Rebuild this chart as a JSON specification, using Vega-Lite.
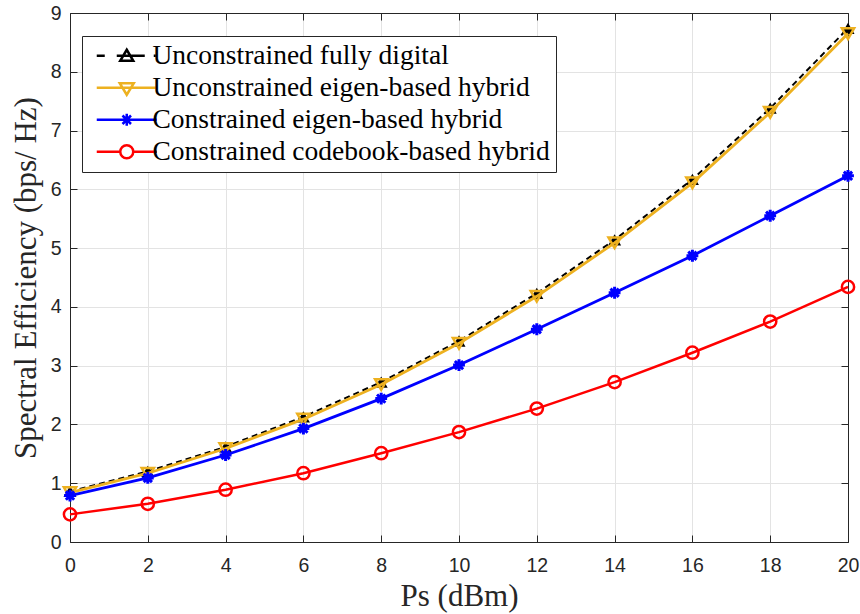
{
  "$schema": "https://vega.github.io/schema/vega-lite/v6.json",
  "width": 778,
  "height": 529,
  "autosize": {"type": "none"},
  "padding": {"left": 70, "top": 13, "right": 12, "bottom": 72},
  "background": "white",
  "datasets": {
    "d": [
      {"ps": 0, "series": "Unconstrained fully digital", "se": 0.86},
      {"ps": 2, "series": "Unconstrained fully digital", "se": 1.2},
      {"ps": 4, "series": "Unconstrained fully digital", "se": 1.62},
      {"ps": 6, "series": "Unconstrained fully digital", "se": 2.13},
      {"ps": 8, "series": "Unconstrained fully digital", "se": 2.72},
      {"ps": 10, "series": "Unconstrained fully digital", "se": 3.42},
      {"ps": 12, "series": "Unconstrained fully digital", "se": 4.23},
      {"ps": 14, "series": "Unconstrained fully digital", "se": 5.14},
      {"ps": 16, "series": "Unconstrained fully digital", "se": 6.17},
      {"ps": 18, "series": "Unconstrained fully digital", "se": 7.38},
      {"ps": 20, "series": "Unconstrained fully digital", "se": 8.74},
      {"ps": 0, "series": "Unconstrained eigen-based hybrid", "se": 0.84},
      {"ps": 2, "series": "Unconstrained eigen-based hybrid", "se": 1.17},
      {"ps": 4, "series": "Unconstrained eigen-based hybrid", "se": 1.59},
      {"ps": 6, "series": "Unconstrained eigen-based hybrid", "se": 2.09},
      {"ps": 8, "series": "Unconstrained eigen-based hybrid", "se": 2.68},
      {"ps": 10, "series": "Unconstrained eigen-based hybrid", "se": 3.38},
      {"ps": 12, "series": "Unconstrained eigen-based hybrid", "se": 4.18},
      {"ps": 14, "series": "Unconstrained eigen-based hybrid", "se": 5.09},
      {"ps": 16, "series": "Unconstrained eigen-based hybrid", "se": 6.11},
      {"ps": 18, "series": "Unconstrained eigen-based hybrid", "se": 7.31},
      {"ps": 20, "series": "Unconstrained eigen-based hybrid", "se": 8.65},
      {"ps": 0, "series": "Constrained eigen-based hybrid", "se": 0.79},
      {"ps": 2, "series": "Constrained eigen-based hybrid", "se": 1.09},
      {"ps": 4, "series": "Constrained eigen-based hybrid", "se": 1.48},
      {"ps": 6, "series": "Constrained eigen-based hybrid", "se": 1.93},
      {"ps": 8, "series": "Constrained eigen-based hybrid", "se": 2.44},
      {"ps": 10, "series": "Constrained eigen-based hybrid", "se": 3.01},
      {"ps": 12, "series": "Constrained eigen-based hybrid", "se": 3.62},
      {"ps": 14, "series": "Constrained eigen-based hybrid", "se": 4.24},
      {"ps": 16, "series": "Constrained eigen-based hybrid", "se": 4.87},
      {"ps": 18, "series": "Constrained eigen-based hybrid", "se": 5.55},
      {"ps": 20, "series": "Constrained eigen-based hybrid", "se": 6.23},
      {"ps": 0, "series": "Constrained codebook-based hybrid", "se": 0.47},
      {"ps": 2, "series": "Constrained codebook-based hybrid", "se": 0.65},
      {"ps": 4, "series": "Constrained codebook-based hybrid", "se": 0.89},
      {"ps": 6, "series": "Constrained codebook-based hybrid", "se": 1.17},
      {"ps": 8, "series": "Constrained codebook-based hybrid", "se": 1.51},
      {"ps": 10, "series": "Constrained codebook-based hybrid", "se": 1.87},
      {"ps": 12, "series": "Constrained codebook-based hybrid", "se": 2.27},
      {"ps": 14, "series": "Constrained codebook-based hybrid", "se": 2.72},
      {"ps": 16, "series": "Constrained codebook-based hybrid", "se": 3.22},
      {"ps": 18, "series": "Constrained codebook-based hybrid", "se": 3.75},
      {"ps": 20, "series": "Constrained codebook-based hybrid", "se": 4.34}
    ]
  },
  "data": {"name": "d"},
  "layer": [
    {
      "encoding": {
        "x": {
          "field": "ps", "type": "quantitative",
          "scale": {"domain": [0, 20], "nice": false, "zero": false},
          "axis": {
            "orient": "bottom", "title": "Ps (dBm)", "values": [0, 2, 4, 6, 8, 10, 12, 14, 16, 18, 20],
            "grid": true, "tickSize": -7, "labelPadding": 21, "titlePadding": 7, "labelFlush": false
          }
        },
        "y": {
          "field": "se", "type": "quantitative",
          "scale": {"domain": [0, 9], "nice": false},
          "axis": {
            "orient": "left", "title": "Spectral Efficiency (bps/ Hz)", "values": [0, 1, 2, 3, 4, 5, 6, 7, 8, 9],
            "grid": true, "tickSize": -7, "labelPadding": 16, "titlePadding": 8, "labelFlush": false
          }
        }
      },
      "layer": [
        {
          "transform": [{"filter": "datum.series === 'Unconstrained fully digital'"}],
          "mark": {"type": "line", "color": "#000000", "strokeWidth": 2, "strokeDash": [6, 4]}
        },
        {
          "transform": [{"filter": "datum.series === 'Unconstrained fully digital'"}],
          "mark": {"type": "point", "shape": "triangle-up", "filled": true, "color": "#000000", "size": 170, "opacity": 1}
        },
        {
          "transform": [{"filter": "datum.series === 'Unconstrained eigen-based hybrid'"}],
          "mark": {"type": "line", "color": "#EDB120", "strokeWidth": 2.8}
        },
        {
          "transform": [{"filter": "datum.series === 'Unconstrained eigen-based hybrid'"}],
          "mark": {"type": "point", "shape": "triangle-down", "filled": false, "color": "#EDB120", "size": 150, "strokeWidth": 2.5, "opacity": 1}
        },
        {
          "transform": [{"filter": "datum.series === 'Constrained eigen-based hybrid'"}],
          "mark": {"type": "line", "color": "#0000FF", "strokeWidth": 2.8}
        },
        {
          "transform": [{"filter": "datum.series === 'Constrained eigen-based hybrid'"}],
          "mark": {"type": "point", "shape": "M0,-1L0,1M-1,0L1,0M-0.7,-0.7L0.7,0.7M-0.7,0.7L0.7,-0.7", "filled": false, "color": "#0000FF", "size": 140, "strokeWidth": 3, "opacity": 1}
        },
        {
          "transform": [{"filter": "datum.series === 'Constrained codebook-based hybrid'"}],
          "mark": {"type": "line", "color": "#FF0000", "strokeWidth": 2.5}
        },
        {
          "transform": [{"filter": "datum.series === 'Constrained codebook-based hybrid'"}],
          "mark": {"type": "point", "shape": "circle", "filled": false, "color": "#FF0000", "size": 150, "strokeWidth": 2.5, "opacity": 1}
        },
        {
          "mark": {"type": "point", "filled": false, "opacity": 0},
          "encoding": {
            "color": {
              "field": "series", "type": "nominal", "title": null,
              "scale": {
                "domain": ["Unconstrained fully digital", "Unconstrained eigen-based hybrid", "Constrained eigen-based hybrid", "Constrained codebook-based hybrid"],
                "range": ["#000000", "#EDB120", "#0000FF", "#FF0000"]
              }
            },
            "shape": {
              "field": "series", "type": "nominal", "title": null,
              "scale": {
                "domain": ["Unconstrained fully digital", "Unconstrained eigen-based hybrid", "Constrained eigen-based hybrid", "Constrained codebook-based hybrid"],
                "range": [
                  "M-1,0L0.6,0M3,0L8.6,0M10.4,0L10.8,0M5,-1.2L6.3,1L3.7,1Z",
                  "M-1,0L11,0M3.6,-0.9L6.4,-0.9L5,1.4Z",
                  "M-1,0L11,0M5,-1.2L5,1.2M3.8,0L6.2,0M4.15,-0.85L5.85,0.85M4.15,0.85L5.85,-0.85",
                  "M-1,0L3.7,0M6.3,0L11,0M6.3,0A1.3,1.3 0 1,1 3.7,0A1.3,1.3 0 1,1 6.3,0"
                ]
              }
            }
          }
        }
      ]
    },
    {
      "mark": {"type": "point", "opacity": 0},
      "encoding": {
        "x": {
          "field": "ps", "type": "quantitative",
          "scale": {"domain": [0, 20], "nice": false, "zero": false},
          "axis": {"orient": "top", "title": null, "labels": false, "grid": false, "tickSize": -7, "values": [0, 2, 4, 6, 8, 10, 12, 14, 16, 18, 20]}
        },
        "y": {
          "field": "se", "type": "quantitative",
          "scale": {"domain": [0, 9], "nice": false},
          "axis": {"orient": "right", "title": null, "labels": false, "grid": false, "tickSize": -7, "values": [0, 1, 2, 3, 4, 5, 6, 7, 8, 9]}
        }
      }
    }
  ],
  "resolve": {"axis": {"x": "independent", "y": "independent"}},
  "config": {
    "view": {"stroke": null},
    "axis": {
      "domainColor": "#262626", "domainWidth": 1, "tickColor": "#262626", "tickWidth": 1,
      "gridColor": "#e3e3e3", "gridWidth": 1,
      "labelFont": "Liberation Sans", "labelFontSize": 19.5, "labelColor": "#262626",
      "titleFont": "Liberation Serif", "titleFontSize": 31, "titleFontWeight": "normal", "titleColor": "#262626"
    },
    "legend": {
      "orient": "none", "legendX": 12, "legendY": 23,
      "symbolSize": 100, "symbolStrokeWidth": 2.5, "symbolOpacity": 1,
      "labelFont": "Liberation Serif", "labelFontSize": 27.5, "labelColor": "#000000", "labelOffset": 37,
      "labelLimit": 600, "rowPadding": 3, "padding": 6,
      "strokeColor": "#262626", "fillColor": "#ffffff",
      "symbolType": "circle"
    }
  }
}
